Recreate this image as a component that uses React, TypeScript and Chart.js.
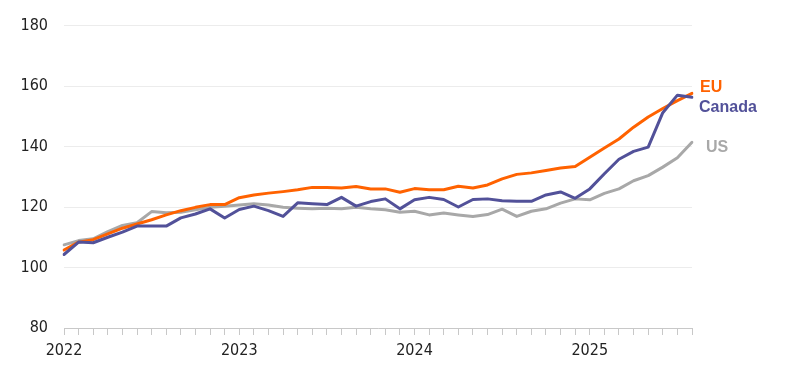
import React, { useEffect, useRef } from "react";
import { Chart, registerables } from "chart.js";

Chart.register(...registerables);

const months: string[] = [];
for (let y = 2022; y <= 2025; y++) {
  for (let m = 1; m <= 12; m++) {
    if (y === 2025 && m > 8) break;
    months.push(`${y}-${String(m).padStart(2, "0")}`);
  }
}

const euValues = [105.8, 108.4, 109.2, 111.1, 113, 114.4, 115.8, 117.4, 118.8, 119.9, 120.8, 120.8,
  123.1, 124, 124.6, 125.1, 125.7, 126.5, 126.5, 126.3, 126.8, 126, 126, 124.9,
  126.1, 125.7, 125.7, 126.9, 126.3, 127.3, 129.3, 130.8, 131.3, 132.1, 132.9, 133.4,
  136.5, 139.5, 142.5, 146.4, 149.8, 152.6, 155.2, 157.6];

const canadaValues = [104.3, 108.4, 108.2, 110, 111.7, 113.7, 113.7, 113.7, 116.4, 117.7, 119.4, 116.4,
  119.2, 120.3, 118.8, 116.9, 121.4, 121.1, 120.8, 123.2, 120.3, 121.8, 122.7, 119.4,
  122.4, 123.2, 122.5, 120, 122.5, 122.7, 122.1, 121.9, 121.9, 124, 125, 122.9,
  126, 131, 135.8, 138.4, 139.8, 151.2, 157, 156.3];

const usValues = [107.5, 108.9, 109.5, 111.9, 113.9, 114.8, 118.5, 118.1, 118.3, 119.1, 119.9, 120.3,
  120.7, 121.1, 120.7, 119.9, 119.6, 119.4, 119.6, 119.4, 119.9, 119.4, 119.1, 118.3,
  118.6, 117.4, 118, 117.4, 116.9, 117.5, 119.3, 116.9, 118.6, 119.4, 121.3, 122.7,
  122.4, 124.5, 126, 128.7, 130.4, 133.2, 136.3, 141.4];

const seriesNames = ["EU", "Canada", "US"];
const seriesColors = ["#FF6200", "#525199", "#A8A8A8"];
const labelOffsets = [
  { dx: 8, dy: -6 },
  { dx: 7, dy: 10 },
  { dx: 14, dy: 5 },
];

const FONT = "'Liberation Sans Narrow', 'DejaVu Sans Condensed', 'Liberation Sans', sans-serif";

const endLabels = {
  id: "endLabels",
  afterDatasetsDraw(chart: any) {
    const ctx = chart.ctx;
    ctx.save();
    ctx.font = "bold 16px 'Liberation Sans', 'DejaVu Sans', sans-serif";
    ctx.textBaseline = "middle";
    ctx.textAlign = "left";
    chart.data.datasets.forEach((ds: any, i: number) => {
      const meta = chart.getDatasetMeta(i);
      const last = meta.data[meta.data.length - 1];
      if (!last) return;
      ctx.fillStyle = ds.borderColor;
      ctx.fillText(ds.label, last.x + labelOffsets[i].dx, last.y + labelOffsets[i].dy);
    });
    ctx.restore();
  },
};

export default function App() {
  const ref = useRef<HTMLCanvasElement | null>(null);
  useEffect(() => {
    document.body.style.margin = "0";
    if (!ref.current) return;
    const chart = new Chart(ref.current, {
      type: "line",
      data: {
        labels: months,
        datasets: [euValues, canadaValues, usValues].map((d, i) => ({
          label: seriesNames[i],
          data: d,
          borderColor: seriesColors[i],
          backgroundColor: seriesColors[i],
          borderWidth: 3,
          borderJoinStyle: "round" as const,
          borderCapStyle: "round" as const,
          pointRadius: 0,
          tension: 0,
          order: i === 2 ? 3 : i === 1 ? 1 : 2,
        })),
      },
      options: {
        responsive: false,
        animation: false,
        layout: { padding: { left: 8, right: 108, top: 25, bottom: 0 } },
        plugins: { legend: { display: false }, tooltip: { enabled: false } },
        scales: {
          x: {
            type: "category",
            offset: false,
            grid: { display: true, drawOnChartArea: false, drawTicks: true, tickLength: 7, color: "#c8c8c8" },
            border: { display: true, color: "#c8c8c8" },
            ticks: {
              autoSkip: false,
              maxRotation: 0,
              padding: 6,
              color: "#222",
              font: { family: FONT, size: 16 },
              callback: (_v: any, idx: number) => (idx % 12 === 0 ? months[idx].slice(0, 4) : ""),
            },
            afterFit: (scale: any) => { scale.height = 41; },
          },
          y: {
            min: 80,
            max: 180,
            ticks: { stepSize: 20, padding: 16, color: "#222", font: { family: FONT, size: 16 } },
            grid: { color: "#ececec", drawTicks: false, lineWidth: 1 },
            border: { display: false },
            afterFit: (scale: any) => { scale.width = 56; },
          },
        },
      },
      plugins: [endLabels],
    });
    return () => chart.destroy();
  }, []);
  return <canvas ref={ref} width={800} height={369} style={{ display: "block" }} />;
}
